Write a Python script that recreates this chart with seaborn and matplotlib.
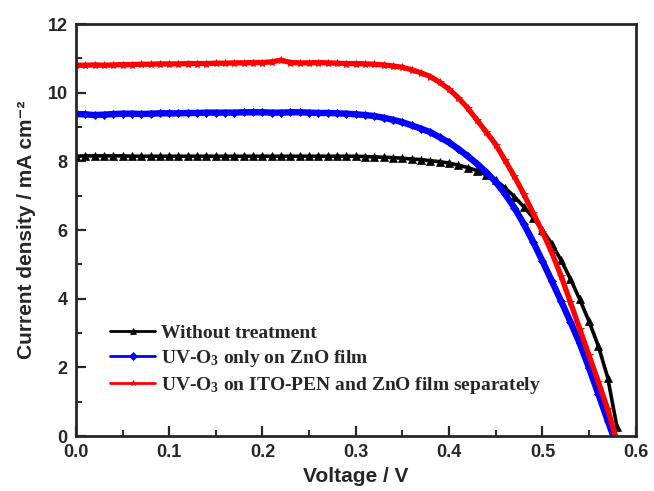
import matplotlib
matplotlib.use("Agg")
import matplotlib.pyplot as plt
from matplotlib.ticker import MultipleLocator
import seaborn as sns
import pandas as pd

voltage = [0.00, 0.01, 0.02, 0.03, 0.04, 0.05, 0.06, 0.07, 0.08, 0.09,
           0.10, 0.11, 0.12, 0.13, 0.14, 0.15, 0.16, 0.17, 0.18, 0.19,
           0.20, 0.21, 0.22, 0.23, 0.24, 0.25, 0.26, 0.27, 0.28, 0.29,
           0.30, 0.31, 0.32, 0.33, 0.34, 0.35, 0.36, 0.37, 0.38, 0.39,
           0.40, 0.41, 0.42, 0.43, 0.44, 0.45, 0.46, 0.47, 0.48, 0.49,
           0.50, 0.51, 0.52, 0.53, 0.54, 0.55, 0.56, 0.57, 0.58]

without_treatment = [8.15, 8.16, 8.16, 8.16, 8.16, 8.16, 8.15, 8.15, 8.15, 8.15,
                     8.15, 8.15, 8.15, 8.15, 8.15, 8.15, 8.15, 8.15, 8.15, 8.15,
                     8.15, 8.15, 8.15, 8.15, 8.15, 8.15, 8.15, 8.15, 8.15, 8.15,
                     8.15, 8.14, 8.13, 8.12, 8.11, 8.09, 8.07, 8.05, 8.02, 7.99,
                     7.95, 7.89, 7.82, 7.73, 7.60, 7.45, 7.23, 6.97, 6.68, 6.36,
                     6.00, 5.60, 5.12, 4.58, 3.98, 3.34, 2.62, 1.70, 0.25]

uv_zno = [9.38, 9.37, 9.35, 9.36, 9.38, 9.39, 9.39, 9.38, 9.39, 9.40,
          9.40, 9.40, 9.41, 9.41, 9.42, 9.42, 9.42, 9.42, 9.43, 9.43,
          9.43, 9.42, 9.42, 9.43, 9.43, 9.42, 9.41, 9.41, 9.40, 9.39,
          9.37, 9.35, 9.32, 9.27, 9.21, 9.14, 9.05, 8.95, 8.85, 8.70,
          8.55, 8.36, 8.15, 7.93, 7.68, 7.40, 7.05, 6.65, 6.18, 5.66,
          5.10, 4.52, 3.93, 3.33, 2.70, 1.98, 1.22, 0.45, -0.30]

uv_ito_zno = [10.80, 10.80, 10.81, 10.80, 10.81, 10.82, 10.82, 10.83, 10.83, 10.84,
              10.84, 10.84, 10.85, 10.85, 10.85, 10.86, 10.86, 10.87, 10.87, 10.88,
              10.88, 10.90, 10.95, 10.88, 10.87, 10.87, 10.88, 10.87, 10.86, 10.85,
              10.85, 10.84, 10.83, 10.81, 10.78, 10.74, 10.67, 10.58, 10.47, 10.30,
              10.10, 9.85, 9.55, 9.20, 8.85, 8.49, 8.03, 7.56, 7.05, 6.50,
              5.95, 5.35, 4.66, 3.90, 3.12, 2.35, 1.58, 0.78, -0.15]

labels = ["Without treatment",
          "UV-O$_3$ only on ZnO film",
          "UV-O$_3$ on ITO-PEN and ZnO film separately"]

df = pd.concat([
    pd.DataFrame({"Voltage": voltage, "J": without_treatment, "Sample": labels[0]}),
    pd.DataFrame({"Voltage": voltage, "J": uv_zno, "Sample": labels[1]}),
    pd.DataFrame({"Voltage": voltage, "J": uv_ito_zno, "Sample": labels[2]}),
], ignore_index=True)

sns.set_style("ticks")
plt.rcParams["mathtext.fontset"] = "custom"
plt.rcParams["mathtext.rm"] = "Liberation Serif:bold"
plt.rcParams["mathtext.it"] = "Liberation Serif:bold"
plt.rcParams["mathtext.bf"] = "Liberation Serif:bold"

fig = plt.figure(figsize=(6.54, 4.91), dpi=100)
ax = fig.add_axes([0.116, 0.112, 0.856, 0.839])

palette = {labels[0]: "#000000", labels[1]: "#0000ff", labels[2]: "#ff0000"}
markers = {labels[0]: "^", labels[1]: "D", labels[2]: "*"}
sizes = {labels[0]: 6, labels[1]: 4.5, labels[2]: 6}
widths = {labels[0]: 2.6, labels[1]: 4.6, labels[2]: 3.8}

for lab in labels:
    sub = df[df["Sample"] == lab]
    sns.lineplot(data=sub, x="Voltage", y="J", ax=ax, color=palette[lab],
                 marker=markers[lab], markersize=sizes[lab], linewidth=widths[lab],
                 markeredgewidth=0.5, markeredgecolor=palette[lab],
                 label=lab, estimator=None, sort=False)

ax.set_xlim(0, 0.6)
ax.set_ylim(0, 12)
ax.xaxis.set_major_locator(MultipleLocator(0.1))
ax.xaxis.set_minor_locator(MultipleLocator(0.05))
ax.yaxis.set_major_locator(MultipleLocator(2))
ax.yaxis.set_minor_locator(MultipleLocator(1))
ax.set_xticks([0, 0.1, 0.2, 0.3, 0.4, 0.5, 0.6])
ax.set_xticklabels(["0.0", "0.1", "0.2", "0.3", "0.4", "0.5", "0.6"])
ax.tick_params(which="major", direction="in", length=7, width=1.6,
               labelsize=13, pad=6)
ax.tick_params(which="minor", direction="in", length=4, width=1.4)
for t in ax.get_xticklabels() + ax.get_yticklabels():
    t.set_fontfamily("Liberation Sans")
    t.set_fontweight("bold")
for s in ax.spines.values():
    s.set_linewidth(2)
    s.set_visible(True)

ax.set_xlabel("Voltage / V", fontsize=15, fontweight="bold",
              family=["Liberation Sans", "DejaVu Sans"], labelpad=4)
ax.set_ylabel("Current density / mA cm\u207b\u00b2", fontsize=15, fontweight="bold",
              family=["Liberation Sans", "DejaVu Sans"], labelpad=8)

leg = ax.legend(loc="lower left", bbox_to_anchor=(0.03, 0.055), frameon=False,
                handlelength=2.3, handletextpad=0.3, labelspacing=0.3,
                prop={"family": "Liberation Serif", "weight": "bold", "size": 14})
for h in leg.legend_handles:
    h.set_linewidth(2)
    h.set_markersize(4)

fig.savefig("out.png", dpi=100)
